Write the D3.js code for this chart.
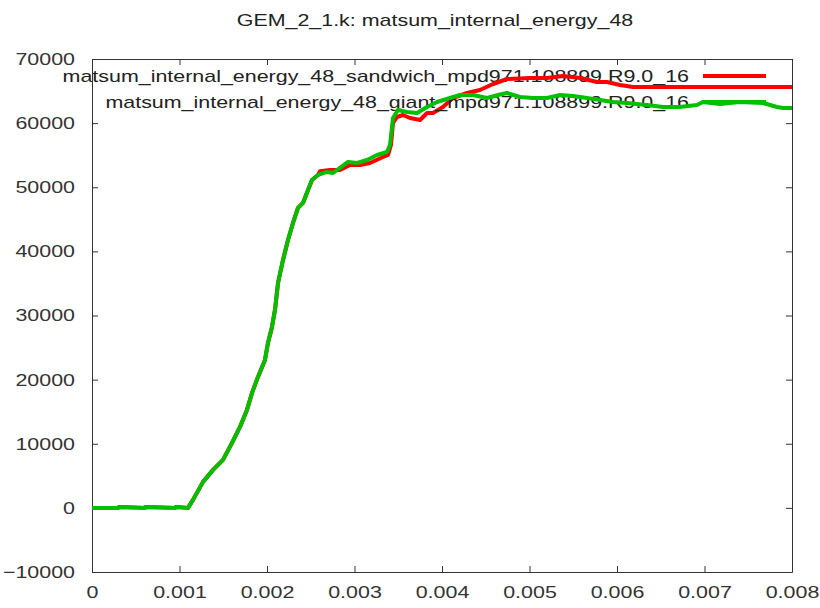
<!DOCTYPE html>
<html><head><meta charset="utf-8">
<script src="https://cdn.jsdelivr.net/npm/d3@7"></script>
<style>body{margin:0;background:#fff}svg{display:block}text{font-family:"Liberation Sans",Arial,sans-serif}</style>
</head><body>
<svg id="c" width="820" height="608"></svg>
<script>
const title = "GEM_2_1.k: matsum_internal_energy_48";
const seriesNames = ["matsum_internal_energy_48_sandwich_mpd971.108899.R9.0_16",
                     "matsum_internal_energy_48_giant_mpd971.108899.R9.0_16"];
const seriesColors = ["#ff0000", "#00c000"];
const xTicks = [0, 0.001, 0.002, 0.003, 0.004, 0.005, 0.006, 0.007, 0.008];
const yTicks = [-10000, 0, 10000, 20000, 30000, 40000, 50000, 60000, 70000];

// shared early rise
const riseX = [0, 0.0003, 0.00031, 0.0006, 0.00061, 0.00095, 0.00096, 0.001097, 0.001154, 0.001269, 0.001383, 0.001497, 0.0016, 0.001691, 0.001771, 0.001829, 0.001897, 0.001977, 0.002011, 0.002057, 0.002091, 0.002126, 0.002183, 0.00224, 0.002297, 0.002354, 0.002411, 0.002469, 0.002514, 0.002583];
const riseY = [0, 0, 150, 0, 150, 0, 150, 0, 1247, 4053, 5924, 7483, 10134, 12628, 15278, 17929, 20423, 23073, 25724, 28218, 30868, 35078, 38663, 41781, 44432, 46770, 47550, 49576, 51135, 51915];

const sandwichX = riseX.concat([0.002606, 0.00272, 0.002834, 0.002949, 0.003063, 0.003177, 0.003326, 0.003383, 0.003417, 0.00344, 0.003486, 0.003554, 0.003634, 0.003749, 0.003829, 0.003897, 0.004011, 0.004126, 0.004286, 0.004434, 0.004583, 0.004743, 0.005006, 0.0052, 0.005383, 0.00558, 0.005771, 0.005886, 0.006034, 0.006183, 0.006571, 0.006949, 0.007326, 0.008]);
const sandwichY = riseY.concat([52500, 52694, 52694, 53474, 53474, 53786, 54721, 55033, 56592, 60022, 60957, 61268, 60801, 60489, 61580, 61580, 62516, 63919, 64699, 65166, 66102, 66881, 67037, 67037, 67349, 67037, 66413, 66413, 65945, 65634, 65634, 65634, 65634, 65634]);

const giantX = riseX.concat([0.002686, 0.002754, 0.002834, 0.002926, 0.003029, 0.003143, 0.003257, 0.003371, 0.003406, 0.00344, 0.003497, 0.0036, 0.003714, 0.003829, 0.003943, 0.004091, 0.004206, 0.004354, 0.004514, 0.00464, 0.004743, 0.004891, 0.00504, 0.0052, 0.005349, 0.005497, 0.005657, 0.005806, 0.005954, 0.006114, 0.006343, 0.006526, 0.006714, 0.006914, 0.00698, 0.007177, 0.0074, 0.007669, 0.007829, 0.0079, 0.008]);
const giantY = riseY.concat([52382, 52227, 53006, 53941, 53786, 54253, 55033, 55500, 56592, 60801, 62048, 61736, 61580, 62516, 63295, 63919, 64387, 64387, 63919, 64387, 64699, 64075, 63919, 63919, 64387, 64231, 63919, 63607, 63295, 63140, 62828, 62516, 62516, 62828, 63295, 62984, 63295, 63140, 62516, 62360, 62360]);

const svg = d3.select("#c");
const L = 92, R = 792, T = 59, B = 572;
const x = d3.scaleLinear().domain([0, 0.008]).range([L, R]);
const y = d3.scaleLinear().domain([-10000, 70000]).range([B, T]);
const WIDEN = 1.26;
function widen(sel) {
  sel.each(function () {
    const w = this.getComputedTextLength();
    if (w > 0) d3.select(this).attr("textLength", w * WIDEN).attr("lengthAdjust", "spacingAndGlyphs");
  });
}

svg.append("text").attr("x", 435).attr("y", 26).attr("text-anchor", "middle")
  .attr("font-size", 17).attr("fill", "#222").text(title).call(widen);

const fmtX = d => d === 0 ? "0" : d3.format(".3f")(d);
const ax = (g) => g.selectAll(".domain").attr("stroke", "#333");
svg.append("g").attr("transform", `translate(0,${B})`)
  .call(d3.axisBottom(x).tickValues(xTicks).tickFormat(fmtX).tickSize(-6).tickSizeOuter(0).tickPadding(14))
  .call(g => g.selectAll("text").attr("font-size", 17).attr("fill", "#333").attr("font-family", "Liberation Sans, Arial, sans-serif").call(widen))
  .call(g => g.selectAll("line").attr("stroke", "#333")).call(ax);
svg.append("g").attr("transform", `translate(0,${T})`)
  .call(d3.axisTop(x).tickValues(xTicks).tickFormat("").tickSize(-6).tickSizeOuter(0))
  .call(g => g.selectAll("line").attr("stroke", "#333")).call(ax);
svg.append("g").attr("transform", `translate(${L},0)`)
  .call(d3.axisLeft(y).tickValues(yTicks).tickFormat(d3.format("d")).tickSize(-6).tickSizeOuter(0).tickPadding(17))
  .call(g => g.selectAll("text").attr("font-size", 17).attr("fill", "#333").attr("font-family", "Liberation Sans, Arial, sans-serif").call(widen))
  .call(g => g.selectAll("line").attr("stroke", "#333")).call(ax);
svg.append("g").attr("transform", `translate(${R},0)`)
  .call(d3.axisRight(y).tickValues(yTicks).tickFormat("").tickSize(-6).tickSizeOuter(0))
  .call(g => g.selectAll("line").attr("stroke", "#333")).call(ax);

const line = d3.line().x(d => x(d[0])).y(d => y(d[1]));
const series = [d3.zip(sandwichX, sandwichY), d3.zip(giantX, giantY)];
const keyY = [76, 102];
series.forEach((data, i) => {
  svg.append("text").attr("x", 689).attr("y", keyY[i]).attr("dy", "0.35em")
    .attr("text-anchor", "end").attr("font-size", 17).attr("fill", "#222").text(seriesNames[i]).call(widen);
  svg.append("line").attr("x1", 703).attr("x2", 766).attr("y1", keyY[i]).attr("y2", keyY[i])
    .attr("stroke", seriesColors[i]).attr("stroke-width", 4);
  svg.append("path").datum(data).attr("d", line).attr("fill", "none")
    .attr("stroke", seriesColors[i]).attr("stroke-width", 4).attr("stroke-linejoin", "round");
});
</script>
</body></html>
